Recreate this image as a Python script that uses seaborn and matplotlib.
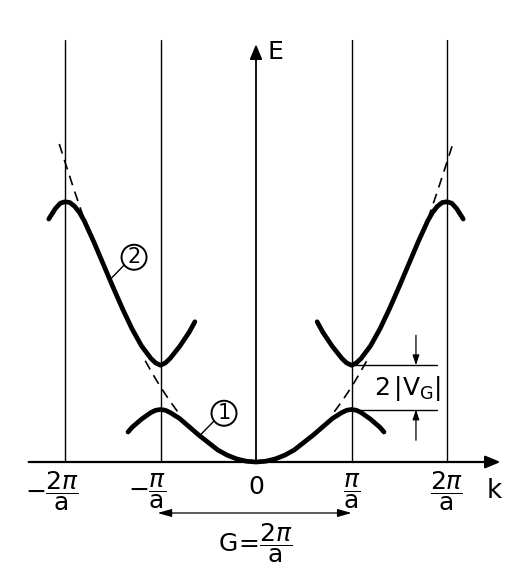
import numpy as np
import pandas as pd
import matplotlib
matplotlib.use("Agg")
import matplotlib.pyplot as plt
import seaborn as sns

# ----------------------------
# Data (k in units of pi/a, E in units of the free-electron energy at pi/a)
# ----------------------------
# band 1 (lowest band), right half; the left half is its mirror image
k_band1 = [0.0, 0.1, 0.2, 0.3, 0.4, 0.5, 0.6, 0.7, 0.8, 0.9, 0.95, 1.0, 1.05, 1.1, 1.2, 1.3, 1.34]
E_band1 = [0.0, 0.01, 0.04, 0.09, 0.16, 0.26, 0.36, 0.47, 0.58, 0.66, 0.69, 0.70, 0.69, 0.66, 0.57, 0.46, 0.40]

# band 2, right branch (from inside the first zone out past 2pi/a)
k_band2 = [0.64, 0.7, 0.8, 0.9, 0.95, 1.0, 1.05, 1.1, 1.2, 1.3, 1.4, 1.5, 1.6, 1.7,
           1.8, 1.85, 1.9, 1.95, 2.0, 2.05, 2.1, 2.17]
E_band2 = [1.87, 1.73, 1.54, 1.38, 1.32, 1.29, 1.32, 1.38, 1.55, 1.78, 2.05, 2.34, 2.64, 2.94,
           3.22, 3.33, 3.41, 3.46, 3.47, 3.45, 3.38, 3.24]

# free-electron parabola pieces shown dashed near the zone boundaries
k_free1 = [0.82, 0.9, 1.0, 1.08, 1.16]
E_free1 = [0.67, 0.81, 1.0, 1.17, 1.35]
k_free2 = [1.8, 1.9, 2.0, 2.06]
E_free2 = [3.24, 3.61, 4.0, 4.24]

zone_k = [-2, -1, 1, 2]
tick_k = [-2, -1, 0, 1, 2]
tick_labels = [r"$-\dfrac{2\pi}{\mathrm{a}}$", r"$-\dfrac{\pi}{\mathrm{a}}$", "0",
               r"$\dfrac{\pi}{\mathrm{a}}$", r"$\dfrac{2\pi}{\mathrm{a}}$"]

# ----------------------------
# Build tables for seaborn
# ----------------------------
k1 = np.array(k_band1)
e1 = np.array(E_band1)
band1 = pd.DataFrame({"k": np.concatenate([-k1[::-1], k1[1:]]),
                      "E": np.concatenate([e1[::-1], e1[1:]]),
                      "seg": 0})
band2 = pd.concat([
    pd.DataFrame({"k": k_band2, "E": E_band2, "seg": 1}),
    pd.DataFrame({"k": [-v for v in k_band2], "E": E_band2, "seg": 2}),
])
bands = pd.concat([band1, band2], ignore_index=True)

free = pd.concat([
    pd.DataFrame({"k": k_free1, "E": E_free1, "seg": 0}),
    pd.DataFrame({"k": [-v for v in k_free1], "E": E_free1, "seg": 1}),
    pd.DataFrame({"k": k_free2, "E": E_free2, "seg": 2}),
    pd.DataFrame({"k": [-v for v in k_free2], "E": E_free2, "seg": 3}),
], ignore_index=True)

gap_top = min(E_band2)
gap_bottom = max(E_band1)

# ----------------------------
# Plot
# ----------------------------
sns.set_style("white")
plt.rcParams["font.family"] = ["DejaVu Sans"]
plt.rcParams["mathtext.fontset"] = "dejavusans"
plt.rcParams["text.color"] = "black"

fig = plt.figure(figsize=(5.26, 5.75), dpi=100)
ax = fig.add_axes([0, 0, 1, 1])
ax.set_xlim(-256 / 95.5, 270 / 95.5)
ax.set_ylim(-113 / 75, 462 / 75)
ax.axis("off")

# zone boundary lines
for zk in zone_k:
    ax.plot([zk, zk], [0, 5.63], color="black", lw=1.0)

# axes with arrows
ax.annotate("", xy=(2.56, 0), xytext=(-2.38, 0),
            arrowprops=dict(arrowstyle="-|>,head_length=0.6,head_width=0.25",
                            color="black", lw=1.6, mutation_scale=15,
                            shrinkA=0, shrinkB=0))
ax.annotate("", xy=(0, 5.57), xytext=(0, 0),
            arrowprops=dict(arrowstyle="-|>,head_length=0.6,head_width=0.25",
                            color="black", lw=1.3, mutation_scale=15,
                            shrinkA=0, shrinkB=0))
ax.text(0.12, 5.47, "E", fontsize=18, ha="left", va="center")
ax.text(2.49, -0.38, "k", fontsize=19, ha="center", va="center")

# bands and free-electron parabola
sns.lineplot(data=free, x="k", y="E", units="seg", estimator=None, ax=ax,
             color="black", lw=1.2, linestyle=(0, (6, 4)), legend=False)
sns.lineplot(data=bands, x="k", y="E", units="seg", estimator=None, ax=ax,
             color="black", lw=3.4, solid_capstyle="round", legend=False)

# tick labels
for tk, tl in zip(tick_k, tick_labels):
    if tl == "0":
        ax.text(tk, -0.33, tl, fontsize=18, ha="center", va="center")
    else:
        ax.text(tk - (0.14 if tk < 0 else 0), -0.39, tl, fontsize=18,
                ha="center", va="center")

# reciprocal lattice vector G
ax.annotate("", xy=(1.0, -0.68), xytext=(-1.03, -0.68),
            arrowprops=dict(arrowstyle="<|-|>,head_length=0.7,head_width=0.2",
                            color="black", lw=0.9, mutation_scale=12,
                            shrinkA=0, shrinkB=0))
ax.text(0.0, -1.08, r"$\mathrm{G}\!=\!\dfrac{2\pi}{\mathrm{a}}$", fontsize=18,
        ha="center", va="center")

# gap annotation
ax.plot([1.0, 1.895], [gap_top, gap_top], color="black", lw=1.0)
ax.plot([1.0, 1.895], [gap_bottom, gap_bottom], color="black", lw=1.0)
ax.annotate("", xy=(1.675, gap_top), xytext=(1.675, 1.69),
            arrowprops=dict(arrowstyle="-|>,head_length=0.6,head_width=0.2",
                            color="black", lw=0.9, mutation_scale=10,
                            shrinkA=0, shrinkB=0))
ax.annotate("", xy=(1.675, gap_bottom), xytext=(1.675, 0.29),
            arrowprops=dict(arrowstyle="-|>,head_length=0.6,head_width=0.2",
                            color="black", lw=0.9, mutation_scale=10,
                            shrinkA=0, shrinkB=0))
ax.text(1.59, 0.98, r"$2\,|\mathrm{V}_\mathrm{G}|$", fontsize=18,
        ha="center", va="center")

# circled band numbers with leader lines
lead2 = np.interp(1.53, k_band2, E_band2)
ax.plot([-1.53, -1.37], [lead2, 2.64], color="black", lw=1.0)
ax.text(-1.277, 2.73, "2", fontsize=15, ha="center", va="center",
        bbox=dict(boxstyle="circle,pad=0.12", fc="white", ec="black", lw=1.4))
lead1 = np.interp(0.59, k_band1, E_band1)
ax.plot([-0.59, -0.43], [lead1, 0.56], color="black", lw=1.0)
ax.text(-0.335, 0.65, "1", fontsize=15, ha="center", va="center",
        bbox=dict(boxstyle="circle,pad=0.12", fc="white", ec="black", lw=1.4))

fig.savefig("out.png", dpi=100)
plt.close(fig)
